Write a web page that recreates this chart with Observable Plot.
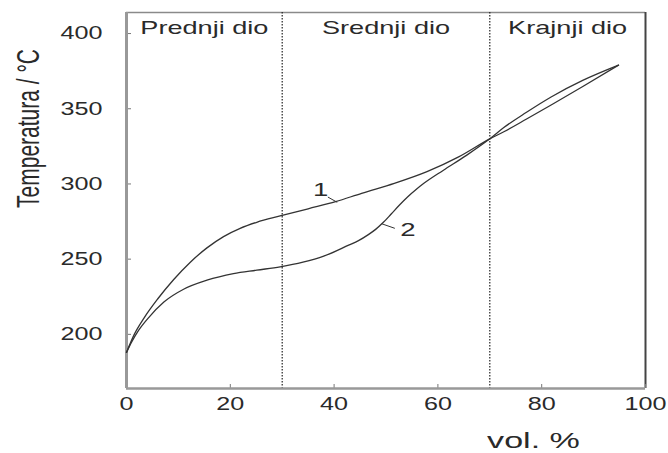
<!DOCTYPE html>
<html>
<head>
<meta charset="utf-8">
<script src="https://cdn.jsdelivr.net/npm/d3@7"></script>
<script src="https://cdn.jsdelivr.net/npm/@observablehq/plot@0.6"></script>
<style>
  html, body { margin: 0; padding: 0; background: #fff; }
</style>
</head>
<body>
<div id="chart"></div>
<script>
// ---- data ----
const vol1  = [0, 1.5, 3.4, 6, 9.1, 12.3, 15.5, 18.7, 21.9, 25.1, 29.6, 35, 40.3, 45.3, 51.6, 57.9, 64, 70, 72.7, 77, 81.9, 88, 94.8];
const temp1 = [188, 200, 211, 223.5, 236.5, 248, 257.5, 265, 270.5, 274.5, 278.7, 283.5, 288.2, 293.8, 300.4, 308.2, 318, 330, 334.7, 343, 352.7, 365, 379];

const vol2  = [0, 1, 2.2, 4.1, 7.2, 11, 15.5, 20.6, 25.1, 29.6, 34, 38, 42.8, 44.7, 46.6, 48, 49.5, 51, 52.6, 54.2, 55.8, 57.3, 61, 65.5, 70, 72.7, 77, 81.9, 88, 94.8];
const temp2 = [188, 195, 202, 210.5, 221.5, 230, 236, 240.4, 242.7, 244.9, 248, 252, 259.3, 262.3, 266.3, 269.8, 274.5, 280, 286, 291.5, 296.3, 300.4, 309, 319, 330, 337.5, 347.5, 358, 369, 379];

const regionNames  = ["Prednji dio", "Srednji dio", "Krajnji dio"];
const regionBounds = [0, 30, 70, 100];

const curveLabels  = ["1", "2"];
const curveLabelX  = [37.4, 54.2];
const curveLabelY  = [296.3, 269.3];
const leaderX1 = [38.8, 49.2];
const leaderY1 = [291.3, 273.5];
const leaderX2 = [40.6, 51.7];
const leaderY2 = [287.8, 270.5];

const xTicks = [0, 20, 40, 60, 80, 100];
const yTicks = [200, 250, 300, 350, 400];
const xDomain = [0, 100];
const yDomain = [164, 414];

const yTitle = "Temperatura / °C";
const xTitle = "vol. %";

// ---- tables built from arrays ----
const curve1 = vol1.map((v, i) => ({vol: v, temp: temp1[i]}));
const curve2 = vol2.map((v, i) => ({vol: v, temp: temp2[i]}));
const regions = regionNames.map((n, i) => ({name: n, mid: (regionBounds[i] + regionBounds[i + 1]) / 2}));
const dividers = regionBounds.slice(1, -1);
const labels = curveLabels.map((t, i) => ({t, x: curveLabelX[i], y: curveLabelY[i]}));
const leaders = leaderX1.map((x, i) => ({x1: x, y1: leaderY1[i], x2: leaderX2[i], y2: leaderY2[i]}));

const ink = "#2a2a2a";

const chart = Plot.plot({
  width: 668,
  height: 453,
  marginLeft: 126,
  marginRight: 23,
  marginTop: 12,
  marginBottom: 65,
  x: {domain: xDomain},
  y: {domain: yDomain},
  style: {fontFamily: "'Liberation Sans', Arial, sans-serif", background: "#fff", color: ink},
  marks: [
    // frame
    Plot.ruleY([yDomain[1]], {stroke: "#8a8a8a", strokeWidth: 1.5}),
    Plot.ruleX([xDomain[1]], {stroke: "#444", strokeWidth: 2}),
    // region dividers
    Plot.ruleX(dividers, {stroke: "#222", strokeWidth: 1.2, strokeDasharray: "1.5,1.5"}),
    // inward ticks
    Plot.axisX({ticks: xTicks, tickSize: -4, tickFormat: () => "", stroke: "#777", label: null}),
    Plot.axisY({ticks: yTicks, tickSize: -5, tickFormat: () => "", stroke: "#777", label: null}),
    // tick labels
    Plot.axisX({ticks: xTicks, tickSize: 0, tickPadding: 9, fontSize: 18, label: null, fill: ink}),
    Plot.axisY({ticks: yTicks, tickSize: 0, tickPadding: 24, fontSize: 18, label: null, fill: ink}),
    Plot.ruleY([yDomain[0]], {stroke: "#999", strokeWidth: 2.5}),
    Plot.ruleX([xDomain[0]], {stroke: "#999", strokeWidth: 3}),
    // curves
    Plot.line(curve1, {x: "vol", y: "temp", curve: "monotone-x", stroke: "#333", strokeWidth: 1.3}),
    Plot.line(curve2, {x: "vol", y: "temp", curve: "monotone-x", stroke: "#333", strokeWidth: 1.3}),
    // curve labels
    Plot.link(leaders, {x1: "x1", y1: "y1", x2: "x2", y2: "y2", stroke: "#333", strokeWidth: 1}),
    Plot.text(labels, {x: "x", y: "y", text: "t", fontSize: 19, fill: ink}),
    // region titles
    Plot.text(regions, {x: "mid", text: "name", frameAnchor: "top", lineAnchor: "middle", dy: 16, fontSize: 17.5, fill: ink}),
    // axis titles
    Plot.text([yTitle], {frameAnchor: "left", textAnchor: "middle", lineAnchor: "middle", rotate: -90, dx: -98, dy: -72, fontSize: 21, fill: ink}),
    Plot.text([xTitle], {frameAnchor: "bottom-right", textAnchor: "middle", lineAnchor: "middle", dx: -112, dy: 52, fontSize: 22, fill: ink})
  ]
});

document.getElementById("chart").appendChild(chart);

// the reference artwork is horizontally stretched; reproduce that glyph stretch
function stretchTexts(group, sx, sy) {
  if (!group) return;
  group.querySelectorAll("text").forEach(t => {
    const tr = t.getAttribute("transform") || "";
    t.setAttribute("transform", tr + ` scale(${sx},${sy})`);
  });
}
chart.querySelectorAll('g[aria-label="x-axis tick label"]').forEach(g => stretchTexts(g, 1.4, 1));
chart.querySelectorAll('g[aria-label="y-axis tick label"]').forEach(g => stretchTexts(g, 1.4, 1));
const textGroups = chart.querySelectorAll('g[aria-label="text"]');
// order: curve labels, region titles, y title, x title
stretchTexts(textGroups[0], 1.45, 1);
stretchTexts(textGroups[1], 1.55, 1);
stretchTexts(textGroups[2], 1, 1.5);
stretchTexts(textGroups[3], 1.55, 1);
</script>
</body>
</html>
